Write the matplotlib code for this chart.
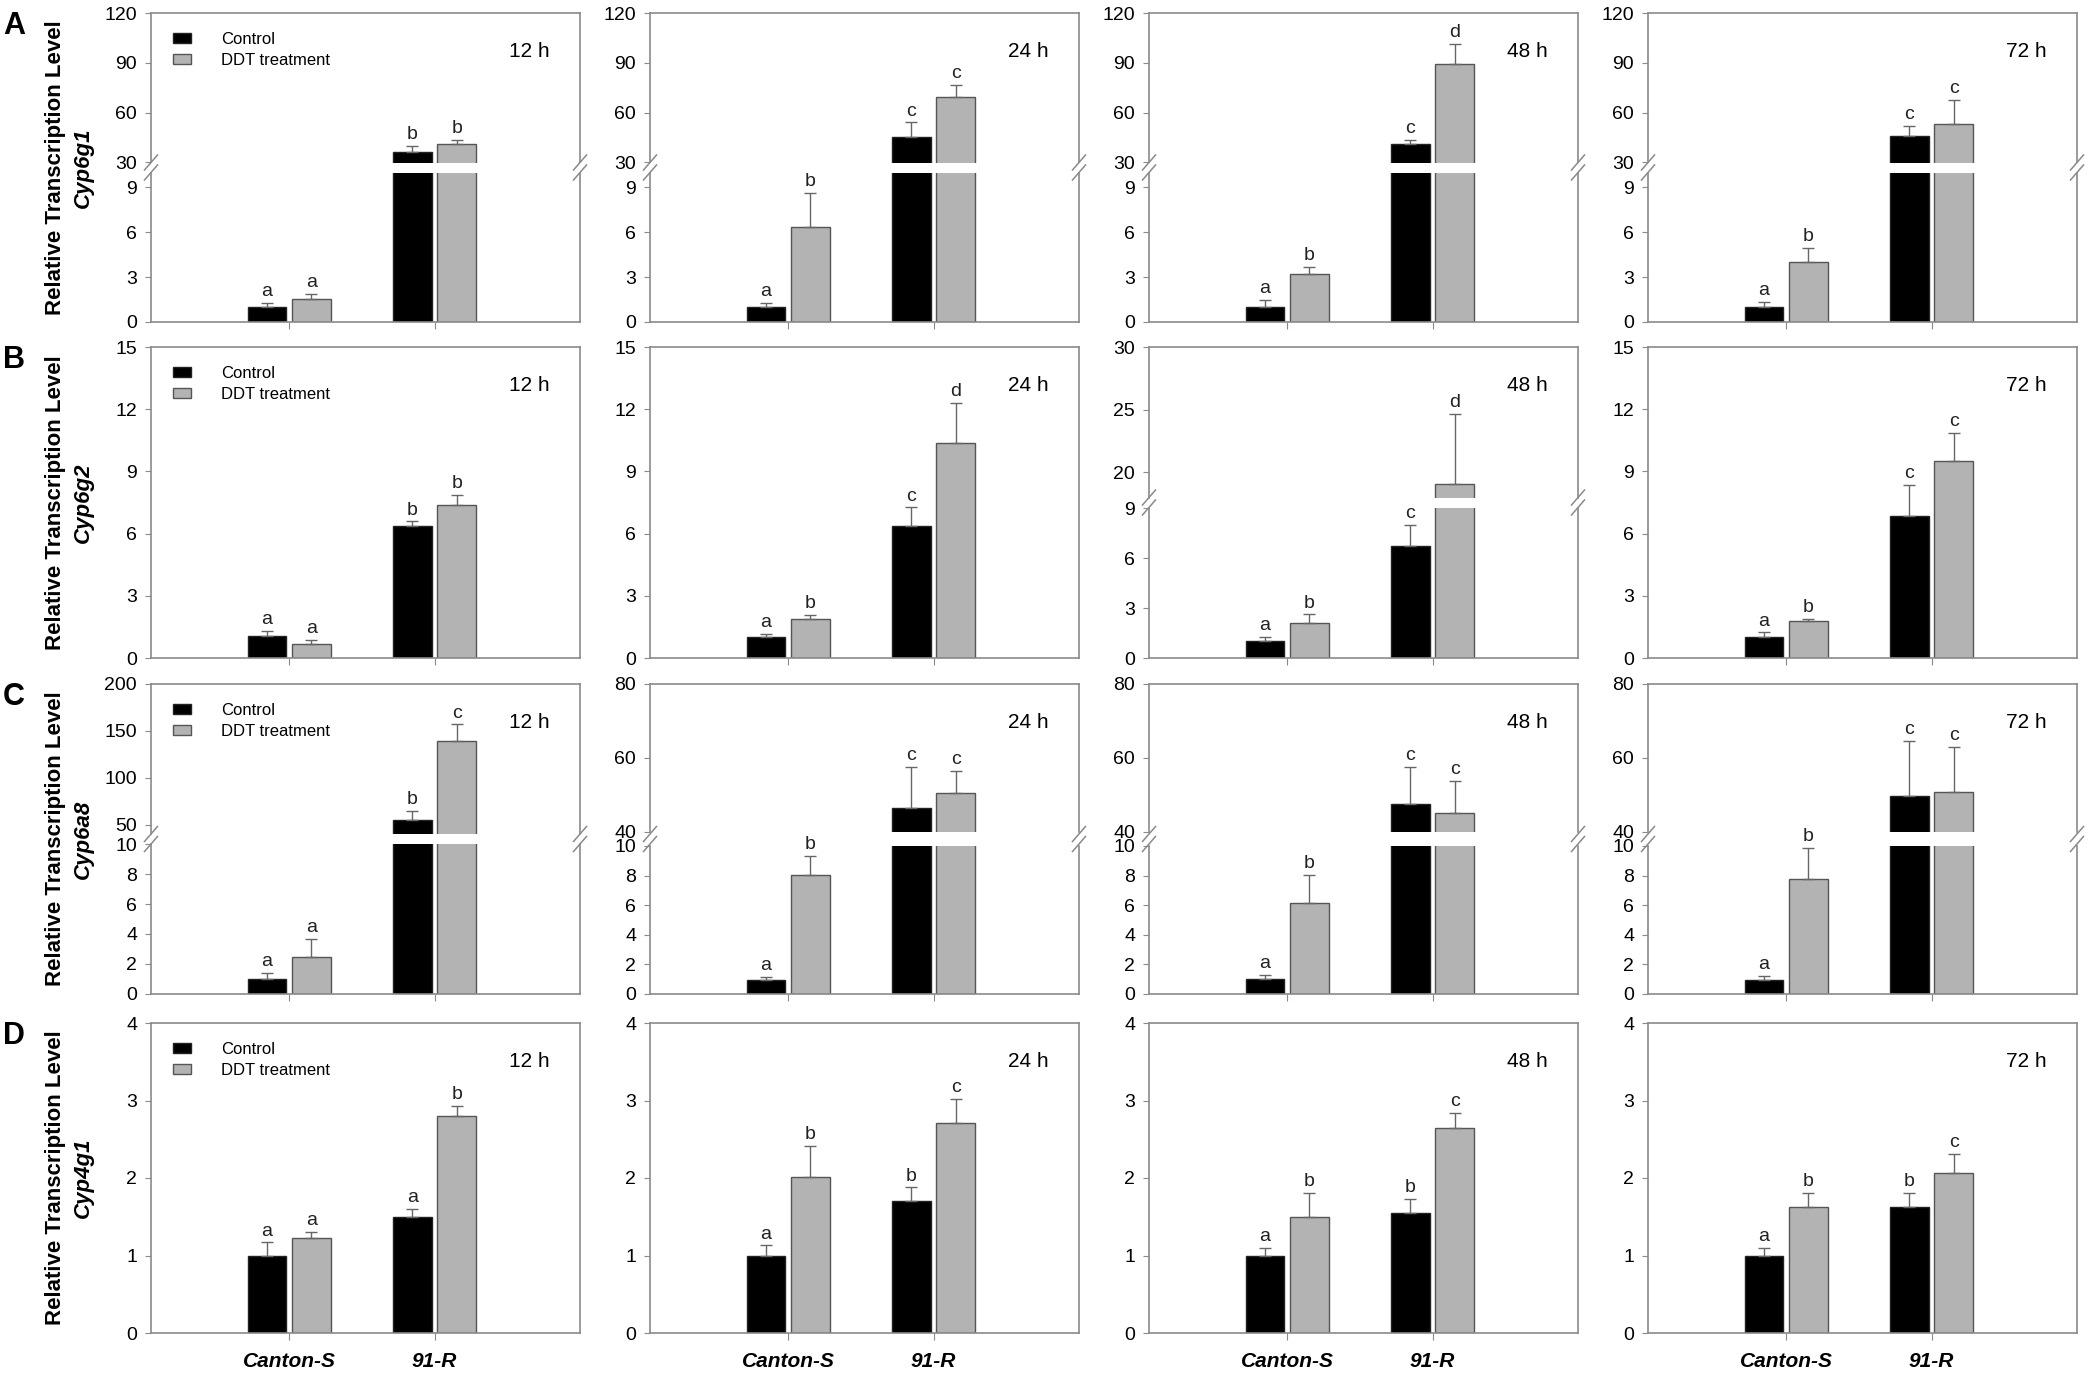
import matplotlib.pyplot as plt
from matplotlib.lines import Line2D
from matplotlib.patches import Patch

plt.rcParams['font.family'] = ['Liberation Sans', 'DejaVu Sans']

# ---- data ----
genes = ['Cyp6g1', 'Cyp6g2', 'Cyp6a8', 'Cyp4g1']
times = ['12 h', '24 h', '48 h', '72 h']
strains = ['Canton-S', '91-R']
panel_tags = ['A', 'B', 'C', 'D']

# values per time point: [Canton-S, 91-R]
cyp6g1_ctrl = [[1.02, 36.4], [1.02, 45.2], [1.0, 41.2], [1.0, 46.0]]
cyp6g1_ctrl_err = [[0.24, 3.6], [0.24, 9.0], [0.5, 2.6], [0.37, 6.0]]
cyp6g1_ddt = [[1.55, 41.2], [6.34, 69.4], [3.2, 89.0], [4.0, 53.2]]
cyp6g1_ddt_err = [[0.31, 2.4], [2.29, 7.4], [0.5, 12.6], [0.97, 14.4]]
cyp6g1_ctrl_let = [['a', 'b'], ['a', 'c'], ['a', 'c'], ['a', 'c']]
cyp6g1_ddt_let = [['a', 'b'], ['b', 'c'], ['b', 'd'], ['b', 'c']]

cyp6g2_ctrl = [[1.04, 6.38], [1.02, 6.35], [1.0, 6.7], [1.02, 6.84]]
cyp6g2_ctrl_err = [[0.25, 0.21], [0.14, 0.91], [0.25, 1.3], [0.21, 1.5]]
cyp6g2_ddt = [[0.68, 7.36], [1.87, 10.37], [2.09, 19.07], [1.79, 9.48]]
cyp6g2_ddt_err = [[0.2, 0.49], [0.21, 1.92], [0.53, 5.6], [0.11, 1.36]]
cyp6g2_ctrl_let = [['a', 'b'], ['a', 'c'], ['a', 'c'], ['a', 'c']]
cyp6g2_ddt_let = [['a', 'b'], ['b', 'd'], ['b', 'd'], ['b', 'c']]

cyp6a8_ctrl = [[1.0, 54.6], [0.93, 46.6], [1.02, 47.6], [0.97, 49.7]]
cyp6a8_ctrl_err = [[0.4, 10.4], [0.25, 10.9], [0.27, 10.1], [0.23, 14.9]]
cyp6a8_ddt = [[2.48, 139.3], [8.05, 50.5], [6.12, 45.2], [7.76, 50.9]]
cyp6a8_ddt_err = [[1.22, 17.7], [1.29, 6.0], [1.93, 8.6], [2.13, 12.2]]
cyp6a8_ctrl_let = [['a', 'b'], ['a', 'c'], ['a', 'c'], ['a', 'c']]
cyp6a8_ddt_let = [['a', 'c'], ['b', 'c'], ['b', 'c'], ['b', 'c']]

cyp4g1_ctrl = [[1.0, 1.5], [1.0, 1.7], [1.0, 1.55], [1.0, 1.62]]
cyp4g1_ctrl_err = [[0.17, 0.1], [0.13, 0.18], [0.1, 0.18], [0.1, 0.19]]
cyp4g1_ddt = [[1.23, 2.8], [2.01, 2.71], [1.5, 2.65], [1.62, 2.06]]
cyp4g1_ddt_err = [[0.07, 0.13], [0.4, 0.31], [0.31, 0.19], [0.19, 0.25]]
cyp4g1_ctrl_let = [['a', 'a'], ['a', 'b'], ['a', 'b'], ['a', 'b']]
cyp4g1_ddt_let = [['a', 'b'], ['b', 'c'], ['b', 'c'], ['b', 'c']]

rows = [
    (cyp6g1_ctrl, cyp6g1_ctrl_err, cyp6g1_ddt, cyp6g1_ddt_err, cyp6g1_ctrl_let, cyp6g1_ddt_let),
    (cyp6g2_ctrl, cyp6g2_ctrl_err, cyp6g2_ddt, cyp6g2_ddt_err, cyp6g2_ctrl_let, cyp6g2_ddt_let),
    (cyp6a8_ctrl, cyp6a8_ctrl_err, cyp6a8_ddt, cyp6a8_ddt_err, cyp6a8_ctrl_let, cyp6a8_ddt_let),
    (cyp4g1_ctrl, cyp4g1_ctrl_err, cyp4g1_ddt, cyp4g1_ddt_err, cyp4g1_ctrl_let, cyp4g1_ddt_let),
]

# axis setups: ('single', ylim, ticks) or ('broken', upper ylim, upper ticks, lower ylim, lower ticks, gap)
brk_a = ('broken', (30, 120), [30, 60, 90, 120], (0, 10), [0, 3, 6, 9], 10)
one_b = ('single', (0, 15), [0, 3, 6, 9, 12, 15])
brk_b48 = ('broken', (18, 30), [20, 25, 30], (0, 9.04), [0, 3, 6, 9], 10)
brk_c12 = ('broken', (40, 200), [50, 100, 150, 200], (0, 10), [0, 2, 4, 6, 8, 10], 10)
brk_c = ('broken', (40, 80), [40, 60, 80], (0, 10), [0, 2, 4, 6, 8, 10], 14)
one_d = ('single', (0, 4), [0, 1, 2, 3, 4])
setups = [
    [brk_a, brk_a, brk_a, brk_a],
    [one_b, one_b, brk_b48, one_b],
    [brk_c12, brk_c, brk_c, brk_c],
    [one_d, one_d, one_d, one_d],
]

# ---- layout (pixels) ----
W, H = 2090, 1375
col_l = [151, 650, 1149, 1648]
col_w = 429
row_t = [13, 347, 684, 1023]
row_b = [322, 658, 994, 1333]

GREY = '#8a8a8a'
BAR_GREY = '#b3b3b3'
TICK_FS = 14

fig = plt.figure(figsize=(W / 100, H / 100), dpi=100)


def px_rect(l, t, r, b):
    return [l / W, 1 - b / H, (r - l) / W, (b - t) / H]


def style_ax(ax, ylim, yticks, show_top, show_bottom):
    ax.set_xlim(0.05, 3.0)
    ax.set_ylim(*ylim)
    ax.set_yticks(yticks)
    ax.set_yticklabels([str(v) for v in yticks])
    for s in ax.spines.values():
        s.set_color(GREY)
        s.set_linewidth(1.2)
    ax.spines['top'].set_visible(show_top)
    ax.spines['bottom'].set_visible(show_bottom)
    ax.tick_params(axis='y', direction='out', length=4, color=GREY, labelsize=TICK_FS, pad=6)
    if show_bottom:
        ax.set_xticks([1, 2])
        ax.tick_params(axis='x', direction='out', length=5, color=GREY, pad=9)
        ax.set_xticklabels(['', ''])
    else:
        ax.set_xticks([])


def draw_bars(ax, ctrl, ctrl_err, ddt, ddt_err, let_c, let_d):
    x = [1, 2]
    off, bw = 0.152, 0.265
    xc = [v - off for v in x]
    xd = [v + off for v in x]
    ax.bar(xc, ctrl, width=bw, color='black', edgecolor='#222222', linewidth=1, zorder=2)
    ax.bar(xd, ddt, width=bw, color=BAR_GREY, edgecolor='#555555', linewidth=1, zorder=2)
    ax.errorbar(xc, ctrl, yerr=[[0, 0], ctrl_err], fmt='none', ecolor='#666666',
                elinewidth=1, capsize=4, capthick=1, zorder=3)
    ax.errorbar(xd, ddt, yerr=[[0, 0], ddt_err], fmt='none', ecolor='#666666',
                elinewidth=1, capsize=4, capthick=1, zorder=3)
    lo, hi = ax.get_ylim()
    for xs, vals, errs, lets in ((xc, ctrl, ctrl_err, let_c), (xd, ddt, ddt_err, let_d)):
        for xi, v, e, t in zip(xs, vals, errs, lets):
            top = v + e
            if lo <= top <= hi:
                ax.annotate(t, xy=(xi, top), xytext=(0, 2), textcoords='offset points',
                            ha='center', va='bottom', fontsize=14, color='#222222')


def break_marks(xpx, ycpx):
    for d in (-5, 5):
        xs = [(xpx - 6.5) / W, (xpx + 6.5) / W]
        ys = [1 - (ycpx + d + 7.5) / H, 1 - (ycpx + d - 7.5) / H]
        fig.add_artist(Line2D(xs, ys, color=GREY, lw=1.1, transform=fig.transFigure))


legend_handles = [Patch(facecolor='black', edgecolor='#222222'),
                  Patch(facecolor=BAR_GREY, edgecolor='#555555')]

for i in range(4):
    data = rows[i]
    for j in range(4):
        setup = setups[i][j]
        l, t, b = col_l[j], row_t[i], row_b[i]
        r = l + col_w
        args = [d[j] for d in data]
        if setup[0] == 'single':
            ax = fig.add_axes(px_rect(l, t, r, b))
            style_ax(ax, setup[1], setup[2], True, True)
            draw_bars(ax, *args)
            ax_top, ax_bot, top_h = ax, ax, b - t
        else:
            _, ylim_u, ticks_u, ylim_l, ticks_l, gap = setup
            seg = (b - t - gap) / 2
            ax_top = fig.add_axes(px_rect(l, t, r, t + seg))
            ax_bot = fig.add_axes(px_rect(l, b - seg, r, b))
            style_ax(ax_top, ylim_u, ticks_u, True, False)
            style_ax(ax_bot, ylim_l, ticks_l, False, True)
            draw_bars(ax_top, *args)
            draw_bars(ax_bot, *args)
            yc = t + seg + gap / 2
            break_marks(l, yc)
            break_marks(r, yc)
            top_h = seg
        ax_top.annotate(times[j], xy=(1, 1), xycoords='axes fraction', xytext=(-22, -28),
                        textcoords='offset points', ha='right', va='center', fontsize=15)
        if i == 3:
            ax_bot.set_xticklabels(strains, fontsize=15, fontweight='bold', style='italic')
        if j == 0:
            ax_top.legend(legend_handles, ['Control', 'DDT treatment'], loc='upper left',
                          bbox_to_anchor=(22 / col_w, 1 - 19 / top_h), frameon=False,
                          fontsize=12, handlelength=1.1, handleheight=0.55,
                          handletextpad=1.8, labelspacing=0.35, borderaxespad=0, borderpad=0)

    yc_row = 1 - (row_t[i] + row_b[i]) / 2 / H
    fig.text(56 / W, yc_row, 'Relative Transcription Level', rotation=90, ha='center',
             va='center', fontsize=16, fontweight='bold')
    fig.text(83 / W, yc_row, genes[i], rotation=90, ha='center', va='center',
             fontsize=16, fontweight='bold', style='italic')
    fig.text(3 / W, 1 - (row_t[i] - 2) / H, panel_tags[i], ha='left', va='top',
             fontsize=22, fontweight='bold')

fig.savefig('out.png', dpi=100)
